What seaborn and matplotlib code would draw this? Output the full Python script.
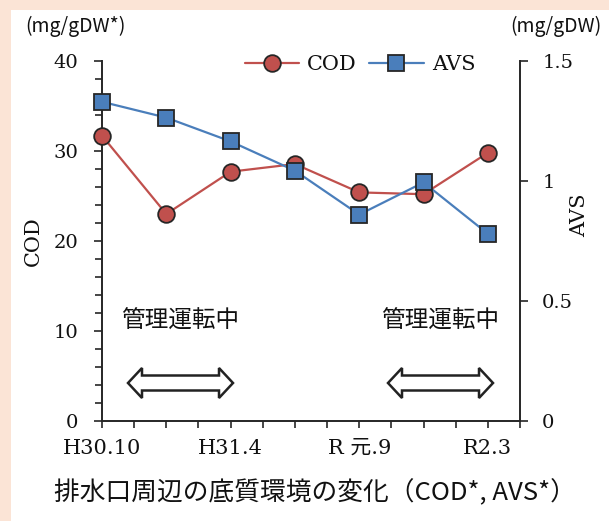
import matplotlib
matplotlib.use("Agg")
import matplotlib.pyplot as plt
import seaborn as sns
import pandas as pd
from matplotlib.patches import Polygon, Rectangle
from matplotlib.ticker import MultipleLocator
from matplotlib.lines import Line2D

# ---- data ----
x_pos = [0, 1, 2, 3, 4, 5, 6]
cod = [31.7, 23.0, 27.7, 28.55, 25.4, 25.2, 29.8]
avs = [1.33, 1.264, 1.165, 1.043, 0.86, 0.994, 0.78]
xtick_pos = [0, 2, 4, 6]
xtick_labels = ["H30.10", "H31.4", "R 元.9", "R2.3"]
cod_ticks = [0, 10, 20, 30, 40]
avs_ticks = [0, 0.5, 1, 1.5]
avs_tick_labels = ["0", "0.5", "1", "1.5"]

RED = "#C0504D"
BLUE = "#4A7EBB"
EDGE = "#262626"
PEACH = "#FBE4D6"
TXT = "#111111"

sns.set_theme(style="white")
plt.rcParams["font.family"] = ["DejaVu Serif", "Noto Sans CJK JP"]
plt.rcParams["text.color"] = TXT
plt.rcParams["axes.labelcolor"] = TXT
plt.rcParams["xtick.color"] = TXT
plt.rcParams["ytick.color"] = TXT

W, H = 609, 521
fig = plt.figure(figsize=(W / 100, H / 100), dpi=100)
fig.patch.set_facecolor(PEACH)
fig.add_artist(Rectangle((11 / W, 0), 1, 1 - 10 / H, transform=fig.transFigure,
                         facecolor="white", edgecolor="none", zorder=-10))

def fx(px):
    return px / W

def fy(py):
    return 1 - py / H

left, right, top, bottom = 102, 520, 61, 421
ax = fig.add_axes([fx(left), fy(bottom), (right - left) / W, (bottom - top) / H])
ax.set_facecolor("none")
ax2 = ax.twinx()

df = pd.DataFrame({"x": x_pos, "COD": cod, "AVS": avs})

sns.lineplot(data=df, x="x", y="COD", ax=ax, color=RED, marker="o",
             markersize=12, markeredgecolor=EDGE, markeredgewidth=1.3,
             linewidth=1.6, label="COD", legend=False, clip_on=False, zorder=3)
sns.lineplot(data=df, x="x", y="AVS", ax=ax2, color=BLUE, marker="s",
             markersize=11, markeredgecolor=EDGE, markeredgewidth=1.3,
             linewidth=1.6, label="AVS", legend=False, clip_on=False, zorder=3)

ax.set_xlim(0, 6.5)
ax.set_ylim(0, 40)
ax2.set_ylim(0, 1.5)

xt = [v * 0.5 for v in range(14)]
ax.set_xticks(xt)
ax.set_xticklabels([xtick_labels[xtick_pos.index(int(v))] if v in xtick_pos else "" for v in xt])
ax.set_yticks(cod_ticks)
ax.yaxis.set_minor_locator(MultipleLocator(2))
ax2.set_yticks(avs_ticks)
ax2.set_yticklabels(avs_tick_labels)

for a in (ax, ax2):
    for s in a.spines.values():
        s.set_color(EDGE)
        s.set_linewidth(1.4)
    a.spines["top"].set_visible(False)
    a.grid(False)

ax.spines["right"].set_visible(False)
ax2.spines["left"].set_visible(False)
ax2.spines["bottom"].set_visible(False)

ax.tick_params(axis="x", which="major", direction="out", length=5, width=1.2,
               color=EDGE, labelsize=15, pad=8, bottom=True)
ax.tick_params(axis="y", which="major", direction="out", length=6, width=1.2,
               color=EDGE, labelsize=14, pad=11, left=True)
ax.tick_params(axis="y", which="minor", direction="out", length=5, width=1.2,
               color=EDGE, left=True)
ax2.tick_params(axis="y", which="major", direction="out", length=6, width=1.2,
                color=EDGE, labelsize=14, pad=10, right=True)

ax.set_xlabel("")
ax.set_ylabel("COD", fontsize=15, labelpad=8)
ax2.set_ylabel("")
fig.text(fx(580), fy(215), "AVS", rotation=90, ha="center", va="center",
         fontsize=15, family="DejaVu Serif")

# legend
handles = [Line2D([], [], color=RED, marker="o", markersize=12, markeredgecolor=EDGE,
                  markeredgewidth=1.3, linewidth=1.6),
           Line2D([], [], color=BLUE, marker="s", markersize=11, markeredgecolor=EDGE,
                  markeredgewidth=1.3, linewidth=1.6)]
fig.legend(handles, ["COD", "AVS"], loc="center", bbox_to_anchor=(fx(360), fy(65)),
           ncol=2, frameon=False, fontsize=15, handlelength=2.6, handletextpad=0.4,
           columnspacing=0.6)

# units
unit_font = ["Noto Sans CJK JP", "DejaVu Sans"]
fig.text(fx(25), fy(26), "(mg/gDW*)", ha="left", va="center", fontsize=14, family=unit_font)
fig.text(fx(601), fy(26), "(mg/gDW)", ha="right", va="center", fontsize=14, family=unit_font)

# annotations
cjk = ["Noto Sans CJK JP", "DejaVu Sans"]
fig.text(fx(180), fy(321), "管理運転中", ha="center", va="center", fontsize=17, family=cjk)
fig.text(fx(440), fy(321), "管理運転中", ha="center", va="center", fontsize=17, family=cjk)

def darrow(x0, x1, yc, L=14, Hh=15, b=7.5):
    pts = [(x0, yc), (x0 + L, yc - Hh), (x0 + L, yc - b), (x1 - L, yc - b),
           (x1 - L, yc - Hh), (x1, yc), (x1 - L, yc + Hh), (x1 - L, yc + b),
           (x0 + L, yc + b), (x0 + L, yc + Hh)]
    poly = Polygon([(fx(px), fy(py)) for px, py in pts], closed=True,
                   transform=fig.transFigure, facecolor="white", edgecolor="#222222",
                   linewidth=1.8, joinstyle="miter", zorder=5)
    fig.add_artist(poly)

darrow(128, 233, 383)
darrow(388, 493, 383)

fig.text(fx(315), fy(493), "排水口周辺の底質環境の変化（COD*, AVS*）", ha="center", va="center",
         fontsize=18.5, family=cjk)

fig.savefig("out.png", dpi=100, facecolor=fig.get_facecolor())
